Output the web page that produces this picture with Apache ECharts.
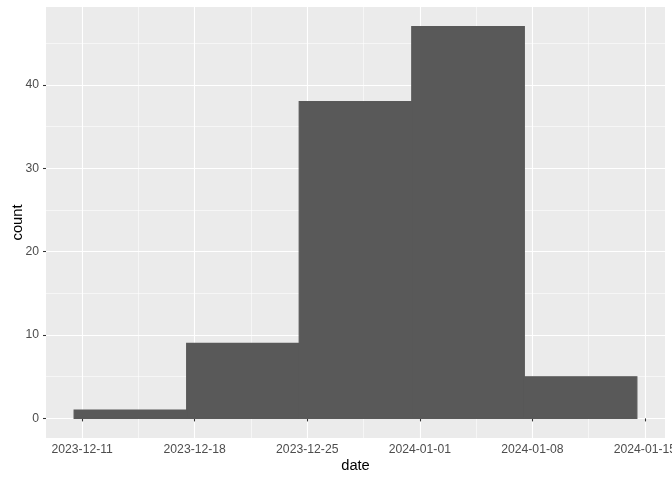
<!DOCTYPE html>
<html>
<head>
<meta charset="utf-8">
<script src="https://cdn.jsdelivr.net/npm/echarts@6/dist/echarts.min.js"></script>
<style>
html,body{margin:0;padding:0;background:#fff;}
#chart{width:672px;height:480px;}
</style>
</head>
<body>
<div id="chart"></div>
<script>
// Histogram bins (weekly)
var binStarts = ['2023-12-10T12:00:00Z','2023-12-17T12:00:00Z','2023-12-24T12:00:00Z','2023-12-31T12:00:00Z','2024-01-07T12:00:00Z'];
var binEnds   = ['2023-12-17T12:00:00Z','2023-12-24T12:00:00Z','2023-12-31T12:00:00Z','2024-01-07T12:00:00Z','2024-01-14T12:00:00Z'];
var counts    = [1, 9, 38, 47, 5];
// Axis breaks
var xTickLabels = ['2023-12-11','2023-12-18','2023-12-25','2024-01-01','2024-01-08','2024-01-15'];
var yTicks = [0, 10, 20, 30, 40];
var yMinorTicks = [5, 15, 25, 35, 45];

var startMs = binStarts.map(function(s){return Date.parse(s);});
var endMs = binEnds.map(function(s){return Date.parse(s);});
var xTickMs = xTickLabels.map(function(s){return Date.parse(s + 'T00:00:00Z');});
var xMinorMs = [];
for (var i = 0; i < xTickMs.length - 1; i++) xMinorMs.push((xTickMs[i] + xTickMs[i+1]) / 2);

var xLo = startMs[0], xHi = endMs[endMs.length-1];
var xPad = (xHi - xLo) * 0.05;
var yMax = Math.max.apply(null, counts);
var yPad = yMax * 0.05;

var data = counts.map(function(c, i){ return [startMs[i], endMs[i], c]; });

var chart = echarts.init(document.getElementById('chart'), null, {renderer:'canvas'});
var fontFam = '"Liberation Sans", Arial, Helvetica, sans-serif';
var majorLine = {show:true, lineStyle:{color:'#ffffff', width:1.1}};
var minorLine = {show:true, lineStyle:{color:'#ffffff', width:0.55}};

chart.setOption({
  animation:false,
  backgroundColor:'#ffffff',
  grid:{left:46, right:7, top:7, bottom:42, show:true, backgroundColor:'#EBEBEB', borderWidth:0,
        containLabel:false, outerBoundsMode:'none'},
  xAxis:[{
    type:'value', min:xLo - xPad, max:xHi + xPad,
    name:'date', nameLocation:'middle', nameGap:20, nameMoveOverlap:false,
    nameTextStyle:{color:'#000', fontSize:14.7, fontFamily:fontFam},
    axisLine:{show:false},
    axisTick:{show:true, customValues:xTickMs, length:3, lineStyle:{color:'#333333', width:1.07}},
    axisLabel:{show:true, customValues:xTickMs, margin:5.5, color:'#4D4D4D', fontSize:12.2, fontFamily:fontFam,
      formatter:function(v){ return new Date(v).toISOString().slice(0,10); }},
    splitLine:majorLine, z:1
  },{
    type:'value', min:xLo - xPad, max:xHi + xPad, position:'bottom',
    axisLine:{show:false},
    axisTick:{show:false, customValues:xMinorMs},
    axisLabel:{show:false, customValues:xMinorMs},
    splitLine:minorLine, z:0
  }],
  yAxis:[{
    type:'value', min:-yPad, max:yMax + yPad,
    name:'count', nameLocation:'middle', nameGap:21, nameMoveOverlap:false,
    nameTextStyle:{color:'#000', fontSize:14.7, fontFamily:fontFam},
    axisLine:{show:false},
    axisTick:{show:true, customValues:yTicks, length:3, lineStyle:{color:'#333333', width:1.07}},
    axisLabel:{show:true, customValues:yTicks, margin:7, color:'#4D4D4D', fontSize:12.2, fontFamily:fontFam},
    splitLine:majorLine, z:1
  },{
    type:'value', min:-yPad, max:yMax + yPad, position:'left',
    axisLine:{show:false},
    axisTick:{show:false, customValues:yMinorTicks},
    axisLabel:{show:false, customValues:yMinorTicks},
    splitLine:minorLine, z:0
  }],
  series:[{
    type:'custom',
    xAxisIndex:0, yAxisIndex:0,
    data:data,
    encode:{x:[0,1], y:2},
    renderItem:function(params, api){
      var p0 = api.coord([api.value(0), 0]);
      var p1 = api.coord([api.value(1), api.value(2)]);
      return {
        type:'rect',
        shape:{x:p0[0], y:p1[1], width:p1[0]-p0[0], height:p0[1]-p1[1]},
        style:{fill:'#595959', stroke:'#595959', lineWidth:1.2}
      };
    },
    z:5
  }]
});
</script>
</body>
</html>
